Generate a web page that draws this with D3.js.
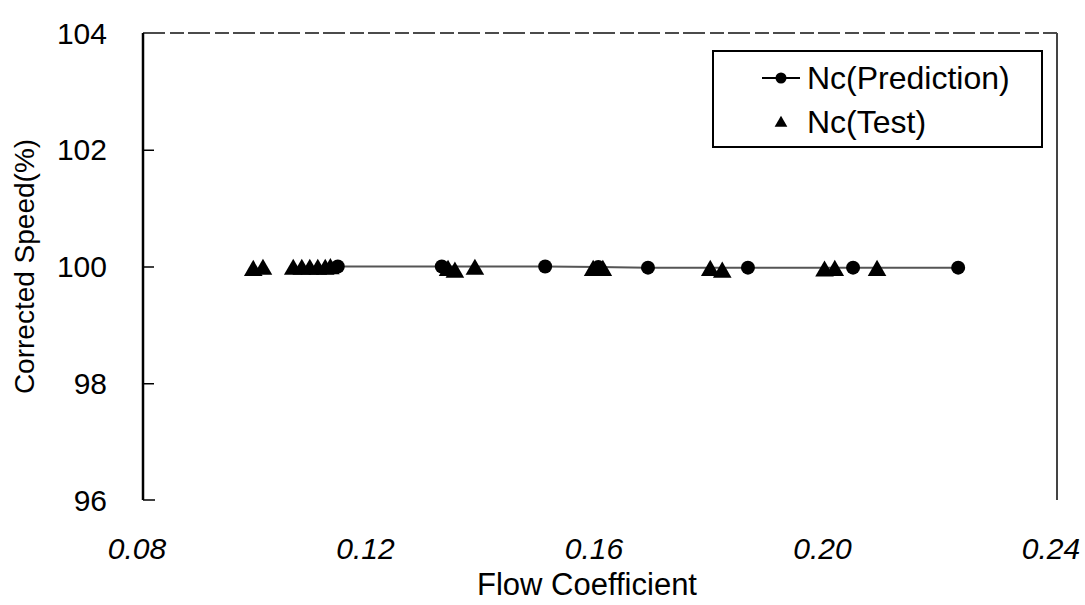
<!DOCTYPE html>
<html>
<head>
<meta charset="utf-8">
<script src="https://cdn.jsdelivr.net/npm/d3@7"></script>
<style>
    body { margin: 0; background: #fff; }
    text { font-family: 'Liberation Sans', Arial, sans-serif; fill: #000; }
</style>
</head>
<body>
<div id="chart"></div>
<script>
const predX = [0.1141, 0.1323, 0.1504, 0.1597, 0.1684, 0.1859, 0.2043, 0.2227];
const predY = [100.0, 100.0, 100.0, 99.99, 99.98, 99.98, 99.98, 99.98];
const testX = [0.0993, 0.1010, 0.1063, 0.1078, 0.1092, 0.1106, 0.1119, 0.1128,
    0.1334, 0.1346, 0.1381, 0.1588, 0.1605, 0.1793, 0.1814, 0.1993, 0.2011, 0.2085];
const testY = [99.93, 99.95, 99.95, 99.95, 99.95, 99.95, 99.95, 99.96,
    99.93, 99.9, 99.95, 99.93, 99.93, 99.93, 99.9, 99.92, 99.93, 99.93];
const xTicks = [0.08, 0.12, 0.16, 0.20, 0.24];
const yTicks = [96, 98, 100, 102, 104];
const seriesNames = ['Nc(Prediction)', 'Nc(Test)'];

const width = 1085;
const height = 605;
const margin = { top: 33, right: 28, bottom: 105, left: 143 };

const svg = d3.select('#chart').append('svg')
    .attr('width', width)
    .attr('height', height);

const x = d3.scaleLinear().domain([0.08, 0.24]).range([margin.left, width - margin.right]);
const y = d3.scaleLinear().domain([96, 104]).range([height - margin.bottom, margin.top]);

// plot frame: dashed top, solid sides
svg.append('line')
    .attr('x1', x(0.08)).attr('x2', x(0.24))
    .attr('y1', y(104)).attr('y2', y(104))
    .attr('stroke', '#111').attr('stroke-width', 1.5)
    .attr('stroke-dasharray', '22,5,14,4');
svg.append('line')
    .attr('x1', x(0.08)).attr('x2', x(0.08))
    .attr('y1', y(104)).attr('y2', y(96))
    .attr('stroke', '#000').attr('stroke-width', 2.5);
svg.append('line')
    .attr('x1', x(0.24)).attr('x2', x(0.24))
    .attr('y1', y(104)).attr('y2', y(96))
    .attr('stroke', '#444').attr('stroke-width', 2);
svg.append('line')
    .attr('x1', x(0.08)).attr('x2', x(0.08) + 12)
    .attr('y1', y(96)).attr('y2', y(96))
    .attr('stroke', '#000').attr('stroke-width', 1.5);

// y axis: inward ticks
const yAxis = d3.axisRight(y).tickValues(yTicks.slice(1, -1)).tickSize(11).tickFormat('');
svg.append('g')
    .attr('transform', `translate(${x(0.08)},0)`)
    .call(yAxis)
    .call(g => g.select('.domain').remove())
    .call(g => g.selectAll('line').attr('stroke', '#000').attr('stroke-width', 1.5));

svg.append('g').selectAll('text')
    .data(yTicks)
    .join('text')
    .attr('x', 107)
    .attr('y', d => y(d) + 10.5)
    .attr('text-anchor', 'end')
    .style('font-size', '30px')
    .text(d => d);

svg.append('g').selectAll('text')
    .data(xTicks)
    .join('text')
    .attr('x', d => x(d) - 6)
    .attr('y', 559)
    .attr('text-anchor', 'middle')
    .style('font-size', '30px')
    .style('font-style', 'italic')
    .text(d => d.toFixed(2));

svg.append('text')
    .attr('x', 587)
    .attr('y', 595)
    .attr('text-anchor', 'middle')
    .style('font-size', '31px')
    .text('Flow Coefficient');

svg.append('text')
    .attr('transform', `translate(34,${y(100)}) rotate(-90)`)
    .attr('text-anchor', 'middle')
    .style('font-size', '28px')
    .text('Corrected Speed(%)');

// prediction line + circles
const pred = predX.map((d, i) => ({ x: d, y: predY[i] }));
const test = testX.map((d, i) => ({ x: d, y: testY[i] }));

svg.append('path')
    .datum(pred)
    .attr('fill', 'none')
    .attr('stroke', '#555')
    .attr('stroke-width', 2)
    .attr('d', d3.line().x(d => x(d.x)).y(d => y(d.y)));

const tri = d3.symbol().type(d3.symbolTriangle).size(150);

svg.append('g').selectAll('path')
    .data(test)
    .join('path')
    .attr('d', tri)
    .attr('transform', d => `translate(${x(d.x)},${y(d.y)})`)
    .attr('fill', '#000');

svg.append('g').selectAll('circle')
    .data(pred)
    .join('circle')
    .attr('cx', d => x(d.x))
    .attr('cy', d => y(d.y))
    .attr('r', 7)
    .attr('fill', '#000');

// legend
const legend = svg.append('g');
legend.append('rect')
    .attr('x', 713).attr('y', 51)
    .attr('width', 329).attr('height', 96)
    .attr('fill', '#fff')
    .attr('stroke', '#000').attr('stroke-width', 2);
legend.append('line')
    .attr('x1', 762).attr('x2', 800)
    .attr('y1', 78).attr('y2', 78)
    .attr('stroke', '#000').attr('stroke-width', 2);
legend.append('circle')
    .attr('cx', 781).attr('cy', 78).attr('r', 5.5)
    .attr('fill', '#000');
legend.append('path')
    .attr('d', d3.symbol().type(d3.symbolTriangle).size(70))
    .attr('transform', 'translate(781,123)')
    .attr('fill', '#000');
legend.selectAll('text')
    .data(seriesNames)
    .join('text')
    .attr('x', 807)
    .attr('y', (d, i) => 89 + i * 44)
    .style('font-size', '32px')
    .text(d => d);
</script>
</body>
</html>
